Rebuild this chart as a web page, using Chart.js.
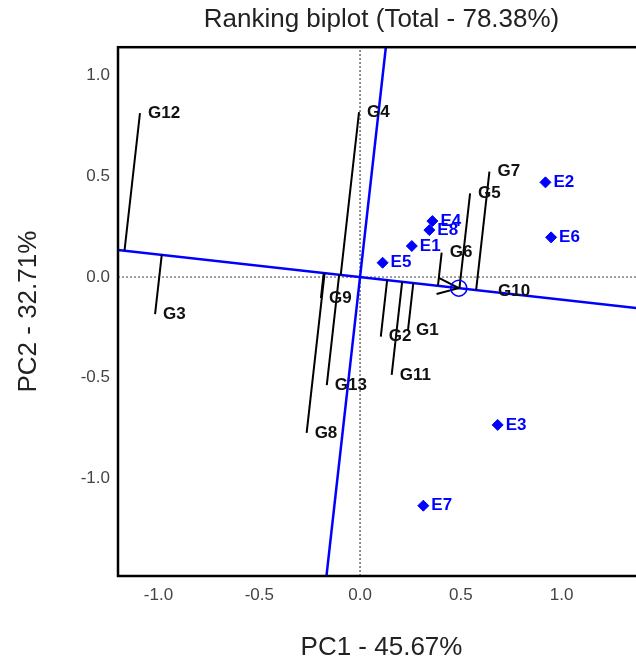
<!DOCTYPE html>
<html>
<head>
<meta charset="utf-8">
<script src="https://cdn.jsdelivr.net/npm/chart.js@4.4.1/dist/chart.umd.min.js"></script>
<style>
  html, body { margin: 0; padding: 0; overflow: hidden; background: #fff; }
  #wrap { width: 655px; height: 662px; }
</style>
</head>
<body>
<div id="wrap"><canvas id="biplot" width="655" height="662"></canvas></div>
<script>
// genotype scores (PC1, PC2)
const genotypes = ['G1', 'G2', 'G3', 'G4', 'G5', 'G6', 'G7', 'G8', 'G9', 'G10', 'G11', 'G12', 'G13'];
const genoPC1 = [0.238, 0.103, -1.017, -0.005, 0.546, 0.405, 0.642, -0.265, -0.194, 0.645, 0.157, -1.092, -0.165];
const genoPC2 = [-0.263, -0.296, -0.184, 0.819, 0.415, 0.121, 0.523, -0.774, -0.104, -0.070, -0.486, 0.814, -0.536];

// environment scores
const environments = ['E1', 'E2', 'E3', 'E4', 'E5', 'E6', 'E7', 'E8'];
const envPC1 = [0.257, 0.920, 0.683, 0.359, 0.112, 0.948, 0.314, 0.344];
const envPC2 = [0.154, 0.470, -0.734, 0.278, 0.071, 0.197, -1.135, 0.233];

// average environment (AEC)
const avgEnv = [0.49, -0.055];

const xTicks = [-1.0, -0.5, 0.0, 0.5, 1.0];
const yTicks = [-1.0, -0.5, 0.0, 0.5, 1.0];
const xRange = [-1.201, 1.414];
const yRange = [-1.484, 1.141];

const BLUE = '#0000ff';
Chart.defaults.font.family = "'Liberation Sans', Arial, sans-serif";

// projection of a genotype onto the AEC abscissa
function projectOnAec(x, y) {
    const [ax, ay] = avgEnv;
    const t = (x * ax + y * ay) / (ax * ax + ay * ay);
    return { x: t * ax, y: t * ay };
}

const aecLen = Math.hypot(avgEnv[0], avgEnv[1]);
const ux = avgEnv[0] / aecLen, uy = avgEnv[1] / aecLen;
const far = 5;

const datasets = [];

// genotype label anchors (no marker)
datasets.push({
    label: 'genotypes',
    data: genotypes.map((g, i) => ({ x: genoPC1[i], y: genoPC2[i] })),
    pointRadius: 0,
    showLine: false,
    order: 0
});

// environments
datasets.push({
    label: 'environments',
    data: environments.map((e, i) => ({ x: envPC1[i], y: envPC2[i] })),
    pointStyle: 'rectRot',
    pointRadius: 5.5,
    backgroundColor: BLUE,
    borderColor: BLUE,
    borderWidth: 1,
    showLine: false,
    order: 1
});

// average environment circle
datasets.push({
    label: 'avg',
    data: [{ x: avgEnv[0], y: avgEnv[1] }],
    pointStyle: 'circle',
    pointRadius: 8,
    backgroundColor: 'rgba(0,0,0,0)',
    borderColor: BLUE,
    borderWidth: 1.5,
    showLine: false,
    order: 2
});

// arrow head at the average environment
const barb = 0.114, barbAng = 21 * Math.PI / 180;
[1, -1].forEach(s => {
    const c = Math.cos(s * barbAng), sn = Math.sin(s * barbAng);
    const bx = ux * c - uy * sn, by = ux * sn + uy * c;
    datasets.push({
        label: 'arrow',
        data: [{ x: avgEnv[0], y: avgEnv[1] }, { x: avgEnv[0] - barb * bx, y: avgEnv[1] - barb * by }],
        showLine: true,
        borderColor: '#000',
        borderWidth: 2,
        pointRadius: 0,
        order: 3
    });
});

// projection lines
genotypes.forEach((g, i) => {
    const p = projectOnAec(genoPC1[i], genoPC2[i]);
    datasets.push({
        label: 'proj ' + g,
        data: [{ x: genoPC1[i], y: genoPC2[i] }, p],
        showLine: true,
        borderColor: '#000',
        borderWidth: 2,
        pointRadius: 0,
        order: 4
    });
});

// AEC abscissa and ordinate
datasets.push({
    label: 'aec abscissa',
    data: [{ x: -far * ux, y: -far * uy }, { x: far * ux, y: far * uy }],
    showLine: true,
    borderColor: BLUE,
    borderWidth: 2.5,
    pointRadius: 0,
    order: 5
});
datasets.push({
    label: 'aec ordinate',
    data: [{ x: far * uy, y: -far * ux }, { x: -far * uy, y: far * ux }],
    showLine: true,
    borderColor: BLUE,
    borderWidth: 2.5,
    pointRadius: 0,
    order: 5
});

// zero reference lines
datasets.push({
    label: 'x0',
    data: [{ x: xRange[0], y: 0 }, { x: xRange[1], y: 0 }],
    showLine: true,
    borderColor: '#444',
    borderWidth: 1,
    borderDash: [2, 2],
    pointRadius: 0,
    order: 6
});
datasets.push({
    label: 'y0',
    data: [{ x: 0, y: yRange[0] }, { x: 0, y: yRange[1] }],
    showLine: true,
    borderColor: '#222',
    borderWidth: 1,
    borderDash: [2, 2],
    pointRadius: 0,
    order: 6
});

const labelPlugin = {
    id: 'pointLabels',
    afterDatasetsDraw(chart) {
        const ctx = chart.ctx;
        ctx.save();
        ctx.font = "bold 17px 'Liberation Sans', Arial, sans-serif";
        ctx.textBaseline = 'middle';
        ctx.textAlign = 'left';
        chart.getDatasetMeta(0).data.forEach((pt, i) => {
            ctx.fillStyle = '#111';
            ctx.fillText(genotypes[i], pt.x + 8, pt.y);
        });
        chart.getDatasetMeta(1).data.forEach((pt, i) => {
            ctx.fillStyle = BLUE;
            ctx.fillText(environments[i], pt.x + 8, pt.y);
        });
        ctx.restore();
    },
    afterDraw(chart) {
        const { left, top, right, bottom } = chart.chartArea;
        const ctx = chart.ctx;
        ctx.save();
        ctx.strokeStyle = '#000';
        ctx.lineWidth = 2.5;
        ctx.strokeRect(left, top, right - left, bottom - top);
        ctx.restore();
    }
};

function noEdgePadding(scale) {
    scale.paddingLeft = 0;
    scale.paddingRight = 0;
    scale.paddingTop = 0;
    scale.paddingBottom = 0;
}

new Chart(document.getElementById('biplot').getContext('2d'), {
    type: 'scatter',
    data: { datasets: datasets },
    options: {
        responsive: false,
        animation: false,
        layout: { padding: { left: 0, right: 10, top: 0, bottom: 0 } },
        plugins: {
            legend: { display: false },
            tooltip: { enabled: false },
            title: {
                display: true,
                fullSize: false,
                text: 'Ranking biplot (Total - 78.38%)',
                color: '#222',
                font: { size: 26, weight: 'normal' },
                padding: { top: 4, bottom: 12 }
            }
        },
        scales: {
            x: {
                type: 'linear',
                min: xRange[0],
                max: xRange[1],
                grid: { display: false, drawTicks: false },
                border: { display: false },
                ticks: {
                    color: '#444',
                    font: { size: 17 },
                    padding: 9,
                    callback: v => v.toFixed(1)
                },
                afterBuildTicks: scale => { scale.ticks = xTicks.map(v => ({ value: v })); },
                afterFit: scale => { scale.height = 86; noEdgePadding(scale); },
                title: {
                    display: true,
                    text: 'PC1 - 45.67%',
                    color: '#222',
                    font: { size: 26 },
                    padding: { top: 0, bottom: -1 }
                }
            },
            y: {
                type: 'linear',
                min: yRange[0],
                max: yRange[1],
                grid: { display: false, drawTicks: false },
                border: { display: false },
                ticks: {
                    color: '#444',
                    font: { size: 17 },
                    padding: 8,
                    callback: v => v.toFixed(1)
                },
                afterBuildTicks: scale => { scale.ticks = yTicks.map(v => ({ value: v })); },
                afterFit: scale => { scale.width = 118; noEdgePadding(scale); },
                title: {
                    display: true,
                    text: 'PC2 - 32.71%',
                    color: '#222',
                    font: { size: 26 },
                    padding: { top: 13, bottom: 0 }
                }
            }
        }
    },
    plugins: [labelPlugin]
});
</script>
</body>
</html>
